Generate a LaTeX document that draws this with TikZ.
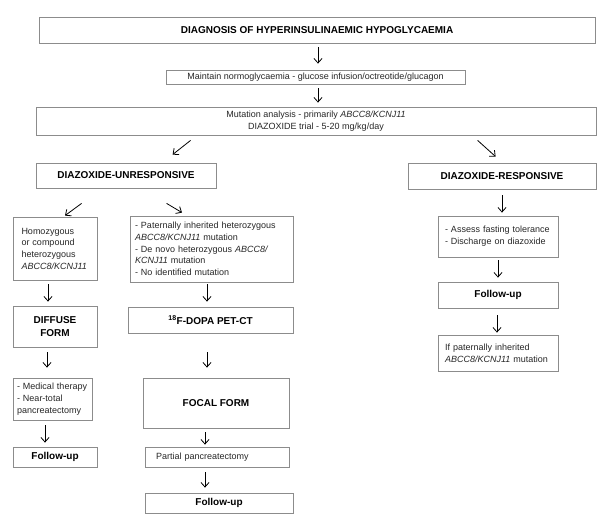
\documentclass[tikz,border=0pt]{standalone}
\usepackage{fontspec}
\setmainfont{Liberation Sans}
\usetikzlibrary{arrows.meta}
\usetikzlibrary{positioning}

\begin{document}
\begin{tikzpicture}[x=1pt,y=-1pt,
  every node/.style={draw=black!45,line width=0.8pt,text=black!85,inner sep=3pt,
    font=\fontsize{9}{11.7}\selectfont},
  head/.style={font=\fontsize{10}{12.5}\selectfont\bfseries,align=center,text=black},
  note/.style={align=left},
  arr/.style={-{Straight Barb[length=4.5pt,width=8pt]},line width=0.8pt}]
  \useasboundingbox (0,0) rectangle (600,521);
  % top of the chart
  \node[head,minimum width=556pt,minimum height=26pt] (diag) at (317,30) {DIAGNOSIS OF HYPERINSULINAEMIC HYPOGLYCAEMIA};
  \node[minimum width=299pt,minimum height=14pt,inner sep=1pt] (maint) at (315.5,77.5) {Maintain normoglycaemia - glucose infusion/octreotide/glucagon};
  \node[align=center,minimum width=560pt,minimum height=28pt,inner sep=1pt] (mut) at (316,121) {Mutation analysis - primarily \textit{ABCC8/KCNJ11}\\DIAZOXIDE trial - 5-20 mg/kg/day};
  \node[head,minimum width=180pt,minimum height=25pt] (unresp) at (126,175.5) {DIAZOXIDE-UNRESPONSIVE};
  \node[head,minimum width=188pt,minimum height=26pt] (resp) at (502,176) {DIAZOXIDE-RESPONSIVE};
  % unresponsive branch
  \node[note,text width=67pt,inner xsep=8.5pt,minimum height=63pt] (homo) at (55,248.5) {Homozygous\\or compound\\heterozygous\\\textit{ABCC8/KCNJ11}};
  \node[note,text width=153pt,inner xsep=5pt,minimum height=66pt] (pat) at (211.5,249) {- Paternally inherited heterozygous\\\textit{ABCC8/KCNJ11} mutation\\- De novo heterozygous \textit{ABCC8/}\\\textit{KCNJ11} mutation\\- No identified mutation};
  \node[head,minimum width=84pt,minimum height=41pt] (diffuse) at (55,326.5) {DIFFUSE\\FORM};
  \node[head,minimum width=165pt,minimum height=26pt] (pet) at (210.5,320) {\textsuperscript{18}F-DOPA PET-CT};
  \node[note,text width=71pt,inner xsep=4pt,minimum height=42pt] (med) at (52.5,399) {- Medical therapy\\- Near-total\\pancreatectomy};
  \node[head,minimum width=84pt,minimum height=20pt] (fuL) at (55,457) {Follow-up};
  \node[head,minimum width=146pt,minimum height=50pt] (focal) at (216,403) {FOCAL FORM};
  \node[note,text width=122pt,inner xsep=11pt,minimum height=20pt] (partial) at (217,457) {Partial pancreatectomy};
  \node[head,minimum width=148pt,minimum height=20pt] (fuB) at (219,503) {Follow-up};
  % responsive branch
  \node[note,text width=106pt,inner xsep=7pt,minimum height=41pt] (assess) at (498,236.5) {- Assess fasting tolerance\\- Discharge on diazoxide};
  \node[head,minimum width=120pt,minimum height=26pt] (fuR) at (498,295) {Follow-up};
  \node[note,text width=106pt,inner xsep=7pt,minimum height=36pt] (ifpat) at (498,353) {If paternally inherited\\\textit{ABCC8/KCNJ11} mutation};
  % arrows
  \draw[arr] ([xshift=1pt,yshift=-4pt]diag.south) -- ([xshift=2.5pt,yshift=6.5pt]maint.north);
  \draw[arr] ([xshift=2.5pt,yshift=-3.5pt]maint.south) -- ([xshift=2pt,yshift=4pt]mut.north);
  \draw[arr] ([xshift=155pt,yshift=-5pt]mut.south west) -- ([xshift=137pt,yshift=8pt]unresp.north west);
  \draw[arr] ([xshift=442pt,yshift=-5pt]mut.south west) -- ([xshift=88pt,yshift=6pt]resp.north west);
  \draw[arr] ([xshift=46pt,yshift=-15pt]unresp.south west) -- ([xshift=10pt,yshift=1pt]homo.north);
  \draw[arr] ([xshift=131pt,yshift=-15pt]unresp.south west) -- ([xshift=-29.5pt,yshift=3pt]pat.north);
  \draw[arr] ([xshift=-7pt,yshift=-4pt]homo.south) -- ([xshift=-7pt,yshift=4pt]diffuse.north);
  \draw[arr] ([xshift=-4.5pt,yshift=-2pt]pat.south) -- ([xshift=-3.5pt,yshift=5pt]pet.north);
  \draw[arr] ([xshift=-8pt,yshift=-5pt]diffuse.south) -- ([xshift=-5.5pt,yshift=10pt]med.north);
  \draw[arr] ([xshift=-3.5pt,yshift=-19pt]pet.south) -- ([xshift=-9pt,yshift=10pt]focal.north);
  \draw[arr] ([xshift=-7.5pt,yshift=-5pt]med.south) -- ([xshift=-10pt,yshift=4pt]fuL.north);
  \draw[arr] ([xshift=-11pt,yshift=-4pt]focal.south) -- ([xshift=-12pt,yshift=2pt]partial.north);
  \draw[arr] ([xshift=-12pt,yshift=-5pt]partial.south) -- ([xshift=-14pt,yshift=5pt]fuB.north);
  \draw[arr] ([yshift=-6pt]resp.south) -- ([xshift=4pt,yshift=3pt]assess.north);
  \draw[arr] ([yshift=-3pt]assess.south) -- ([yshift=4pt]fuR.north);
  \draw[arr] ([xshift=-1pt,yshift=-7pt]fuR.south) -- ([xshift=-1pt,yshift=2pt]ifpat.north);
\end{tikzpicture}
\end{document}
